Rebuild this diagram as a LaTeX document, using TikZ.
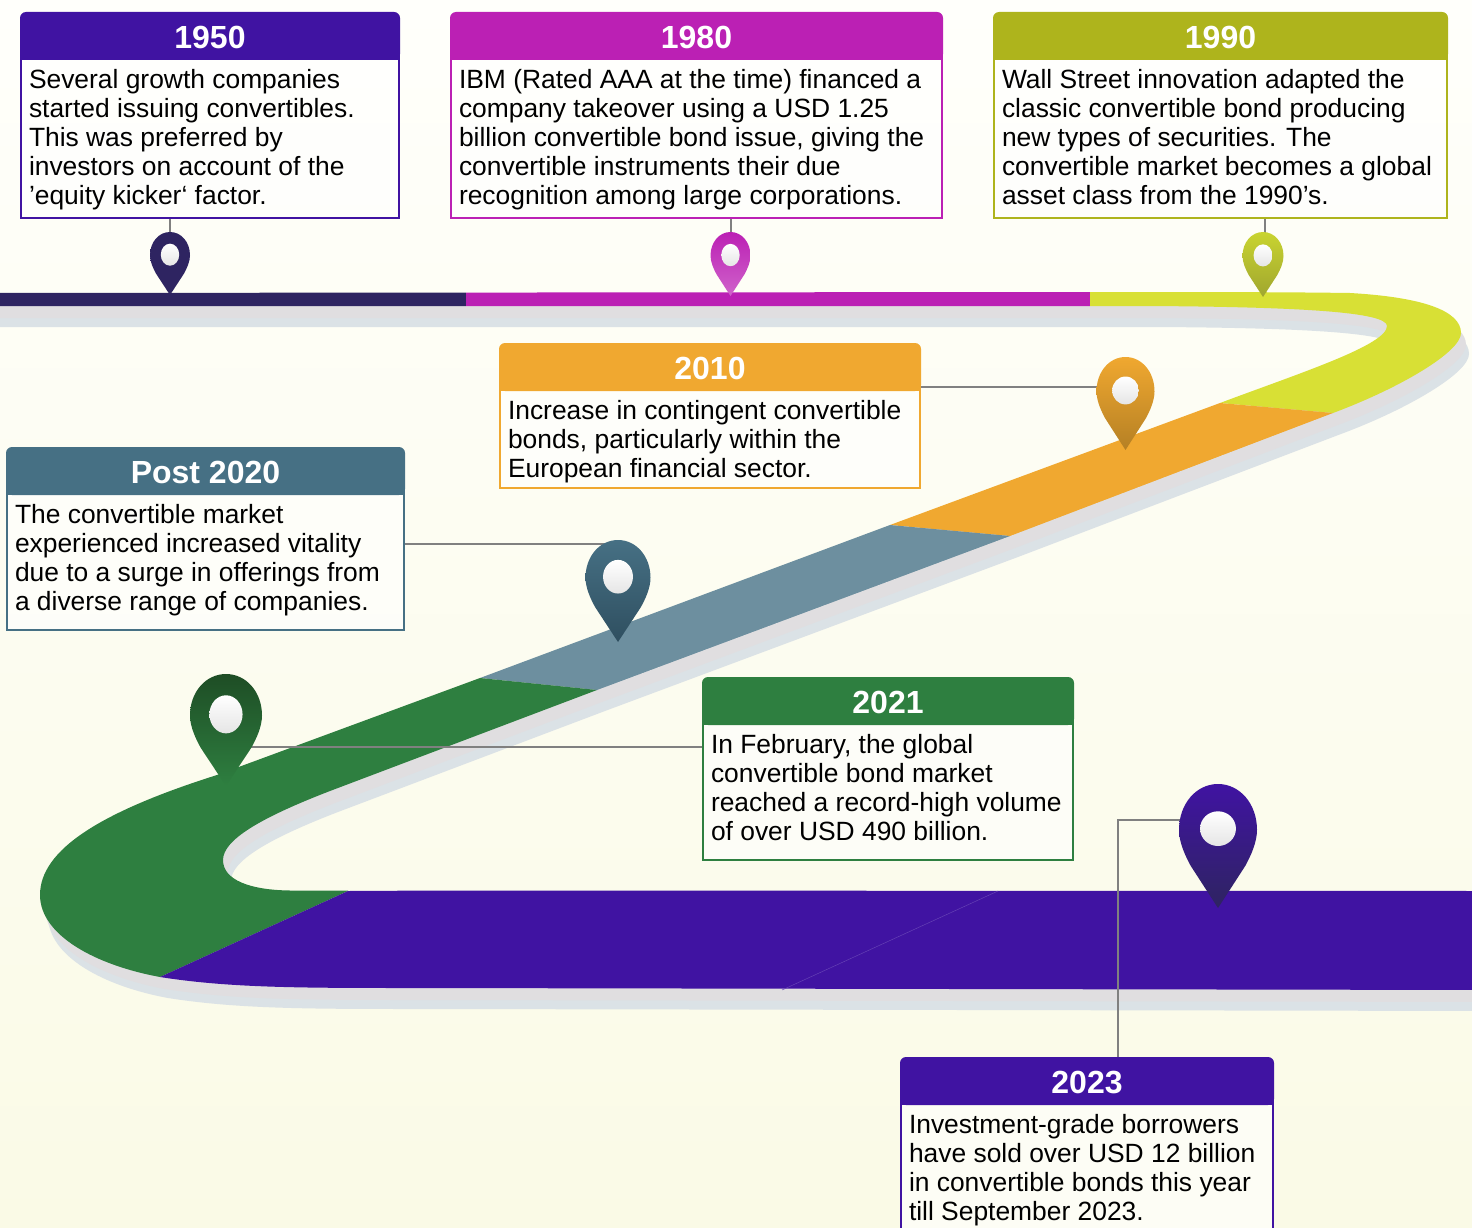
\documentclass[tikz,border=0pt]{standalone}
\usepackage{fontspec}
\setmainfont{Liberation Sans}
\usepackage{tikz}

\definecolor{bgtop}{HTML}{FFFFFB}
\definecolor{bgbot}{HTML}{FAFAE6}
\definecolor{shadeblue}{HTML}{DBE2E6}
\definecolor{shadegray}{HTML}{E0DEE0}
\definecolor{navy}{HTML}{2E2461}
\definecolor{indigo}{HTML}{4013A2}
\definecolor{magenta1}{HTML}{BB20B4}
\definecolor{olive}{HTML}{AEB41C}
\definecolor{lime}{HTML}{D8E035}
\definecolor{limetop}{HTML}{C9D430}
\definecolor{limedk}{HTML}{A0A62F}
\definecolor{amber}{HTML}{F0A830}
\definecolor{amberdk}{HTML}{B58024}
\definecolor{slate}{HTML}{467084}
\definecolor{slatelt}{HTML}{6D8F9F}
\definecolor{slatedk}{HTML}{2F4F60}
\definecolor{leaf}{HTML}{2E7F40}
\definecolor{leafdk}{HTML}{1E4D25}

\tikzset{
	wire/.style={draw=gray, line width=1.8pt},
	cardhead/.style={inner sep=0pt, minimum height=48pt, text=white, font=\fontsize{32}{34}\selectfont\bfseries},
	cardbody/.style={draw, line width=2pt, fill=white, fill opacity=.6, text opacity=1, inner sep=0pt, anchor=north west, font=\fontsize{26.4}{29}\selectfont}
}

% road outline, in picture pixels
\newcommand{\roadpath}{(-20,293) -- (1090,292) .. controls (1200,292) and (1280,292) .. (1350,293) .. controls (1420,297) and (1461,310) .. (1461,333) .. controls (1461,352) and (1400,388) .. (1333,413) -- (1010,536) -- (597,690) -- (330,791) .. controls (260,818) and (223,840) .. (223,860) .. controls (223,880) and (250,890) .. (290,890.5) -- (1490,891) -- (1490,990) -- (420,988) .. controls (300,988) and (230,988) .. (160,977) .. controls (95,965) and (40,935) .. (40,895) .. controls (40,850) and (100,812) .. (217,775) -- (480,678) -- (890,525) -- (1220,403) .. controls (1300,373) and (1387,345) .. (1387,326) .. controls (1387,312) and (1300,307) .. (1150,306) -- (-20,306) -- cycle}

% name, left, top, width, height, colour, year, text
\newcommand{\card}[8]{
	\node[cardbody, draw=#6, minimum width=#4pt-2pt, minimum height=#5pt-47pt] (b#1) at (#2,#3+46) {\parbox[c][\dimexpr #5pt-65pt\relax][t]{\dimexpr #4pt-18pt\relax}{\raggedright\strut #8\strut}};
	\fill[#6, rounded corners=6pt] (#2,#3+48) -- (#2,#3) -- (#2+#4,#3) -- (#2+#4,#3+48) -- cycle;
	\fill[#6] (#2,#3+24) rectangle (#2+#4,#3+48);
	\node[cardhead, minimum width=#4pt] (h#1) at (#2+#4/2,#3+25.5) {#7};
}

% name, centre x, top, width, height, top colour, bottom colour, hole radius
\newcommand{\pinmark}[8]{
	\coordinate (p#1) at (#2,#3);
	\begin{scope}[shift={(#2,#3)}, xscale=#4, yscale=#5]
		\shade[top color=#6, bottom color=#7] (0,0) .. controls (.28,0) and (.5,.16) .. (.5,.37) .. controls (.5,.47) and (.42,.58) .. (.35,.66) -- (0,1) -- (-.35,.66) .. controls (-.42,.58) and (-.5,.47) .. (-.5,.37) .. controls (-.5,.16) and (-.28,0) .. (0,0) -- cycle;
		\shade[top color=white, bottom color=black!10] (0,.36) ellipse [x radius=.23, y radius=#8];
	\end{scope}
}

\begin{document}
\begin{tikzpicture}[x=1pt, y=-1pt]
	\useasboundingbox (0,0) rectangle (1472,1228);
	\shade[top color=bgtop, bottom color=bgbot] (0,0) rectangle (1472,1228);

	% road, two shadows and then the coloured stretches
	\begin{scope}[shift={(8,21)}]
		\fill[shadeblue] \roadpath;
	\end{scope}
	\begin{scope}[shift={(5,12)}]
		\fill[shadegray] \roadpath;
	\end{scope}
	\begin{scope}
		\clip \roadpath;
		\fill[navy] (-20,280) rectangle (466,320);
		\fill[magenta1] (466,280) rectangle (1090,320);
		\fill[lime] (1090,280) -- (1480,280) -- (1480,413) -- (1333,413) -- (1220,403) -- (1090,340) -- cycle;
		\fill[amber] (1220,403) -- (1333,413) -- (1010,536) -- (890,525) -- cycle;
		\fill[slatelt] (890,525) -- (1010,536) -- (597,690) -- (480,678) -- cycle;
		\fill[leaf] (480,678) -- (597,690) -- (400,800) -- (348,891) -- (160,977) -- (0,1000) -- (0,700) -- cycle;
		\fill[indigo] (348,891) -- (1490,885) -- (1490,1000) -- (160,1000) -- (160,977) -- cycle;
	\end{scope}
	\draw[indigo!80!white, line width=.5pt] (782,990) -- (998,891);

	\card{1950}{20}{12}{380}{206}{indigo}{1950}{Several growth companies\\started issuing convertibles.\\This was preferred by\\investors on account of the\\’equity kicker‘ factor.}
	\card{1980}{450}{12}{493}{206}{magenta1}{1980}{IBM (Rated AAA at the time) financed a\\company takeover using a USD 1.25\\billion convertible bond issue, giving the\\convertible instruments their due\\recognition among large corporations.}
	\card{1990}{993}{12}{455}{206}{olive}{1990}{Wall Street innovation adapted the\\classic convertible bond producing\\new types of securities. The\\convertible market becomes a global\\asset class from the 1990’s.}
	\card{2010}{499}{343}{422}{145}{amber}{2010}{Increase in contingent convertible\\bonds, particularly within the\\European financial sector.}
	\card{2020}{6}{447}{399}{183}{slate}{Post 2020}{The convertible market\\experienced increased vitality\\due to a surge in offerings from\\a diverse range of companies.}
	\card{2021}{702}{677}{372}{183}{leaf}{2021}{In February, the global\\convertible bond market\\reached a record-high volume\\of over USD 490 billion.}
	\card{2023}{900}{1057}{374}{183}{indigo}{2023}{Investment-grade borrowers\\have sold over USD 12 billion\\in convertible bonds this year\\till September 2023.}

	\coordinate (j1950) at (170,240);
	\coordinate (j1980) at (731,240);
	\coordinate (j1990) at (1265,240);
	\coordinate (j2010) at (1100,387);
	\coordinate (j2020) at (610,544);
	\coordinate (j2021) at (250,747);
	\coordinate (j2023) at (1185,820);
	\coordinate (k2023) at (1118,1057);

	\draw[wire] (j1950) -- (j1950 |- b1950.south);
	\draw[wire] (j1980) -- (j1980 |- b1980.south);
	\draw[wire] (j1990) -- (j1990 |- b1990.south);
	\draw[wire] (j2010) -- (j2010 -| h2010.east);
	\draw[wire] (j2020) -- (j2020 -| b2020.east);
	\draw[wire] (j2021) -- (j2021 -| b2021.west);
	\draw[wire] (j2023) -| (k2023);

	\pinmark{1950}{170}{232}{40}{63}{navy}{navy}{.175}
	\pinmark{1980}{730.5}{232}{40}{64}{magenta1}{magenta1!70!white}{.175}
	\pinmark{1990}{1263}{232}{41}{65}{limetop}{limedk}{.17}
	\pinmark{2010}{1125.5}{357}{58}{93}{amber}{amberdk}{.15}
	\pinmark{2020}{618}{540}{65}{102}{slate}{slatedk}{.165}
	\pinmark{2021}{226}{674}{72}{112}{leafdk}{leaf}{.17}
	\pinmark{2023}{1218}{784}{78}{124}{indigo}{navy}{.14}
\end{tikzpicture}
\end{document}
